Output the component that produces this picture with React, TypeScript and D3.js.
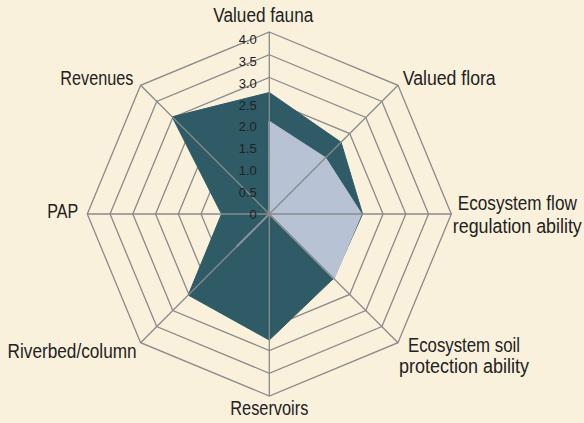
import React from "react";
import * as d3 from "d3";

const categories = [
  "Valued fauna",
  "Valued flora",
  "Ecosystem flow regulation ability",
  "Ecosystem soil protection ability",
  "Reservoirs",
  "Riverbed/column",
  "PAP",
  "Revenues",
];
const darkSeries = [2.67, 2.23, 2.05, 2.0, 2.77, 2.52, 1.05, 3.02];
const lightSeries = [2.03, 1.74, 2.02, 2.01, 0, 1.0, 0, 0];
const tickValues = [0, 0.5, 1, 1.5, 2, 2.5, 3, 3.5, 4];

const labelLines: string[][] = [
  ["Valued fauna"],
  ["Valued flora"],
  ["Ecosystem flow", "regulation ability"],
  ["Ecosystem soil", "protection ability"],
  ["Reservoirs"],
  ["Riverbed/column"],
  ["PAP"],
  ["Revenues"],
];
// rendered widths of each label line (condensed type)
const labelWidths: number[][] = [
  [100],
  [93],
  [119, 129],
  [112, 130],
  [78],
  [129],
  [31],
  [73],
];

const W = 584;
const H = 423;
const cx = 269.3;
const cy = 214;
const R = 182;
const BG = "#faf1dc";
const DARK = "#2e5b65";
const LIGHT = "#b7c2d5";
const GRID = "#8a8a8c";
const FONT = "'Liberation Sans', Arial, sans-serif";

export default function App() {
  const r = d3.scaleLinear().domain([0, 4]).range([0, R]);
  const rLabel = d3.scaleLinear().domain([0, 4]).range([0, R * 0.962]);
  const n = categories.length;
  const angle = (i: number) => (i * 2 * Math.PI) / n;
  const pt = (i: number, v: number): [number, number] => {
    const a = angle(i);
    return [cx + r(v) * Math.sin(a), cy - r(v) * Math.cos(a)];
  };
  const lineGen = d3.line<[number, number]>().curve(d3.curveLinearClosed);
  const poly = (vals: number[]) => lineGen(vals.map((v, i) => pt(i, v))) || "";

  const labelPos: { dx: number; dy: number; anchor: string; lh: number }[] = [
    { dx: -6, dy: -10.3, anchor: "middle", lh: 0 },
    { dx: 4.7, dy: 0, anchor: "start", lh: 0 },
    { dx: 66, dy: -4, anchor: "middle", lh: 23.3 },
    { dx: 66, dy: 9, anchor: "middle", lh: 21.8 },
    { dx: 0, dy: 19, anchor: "middle", lh: 0 },
    { dx: -4, dy: 15.6, anchor: "end", lh: 0 },
    { dx: -9, dy: 4.3, anchor: "end", lh: 0 },
    { dx: -7.3, dy: 0, anchor: "end", lh: 0 },
  ];

  return (
    <div style={{ position: "fixed", left: 0, top: 0, width: W, height: H }}>
      <svg width={W} height={H} style={{ display: "block" }}>
        <rect x={0} y={0} width={W} height={H} fill={BG} />
        {tickValues.slice(1).map((t) => (
          <path
            key={"ring" + t}
            d={poly(categories.map(() => t))}
            fill="none"
            stroke={GRID}
            strokeWidth={1.3}
          />
        ))}
        <path d={poly(darkSeries)} fill={DARK} stroke={DARK} strokeWidth={1} />
        <path d={poly(lightSeries)} fill={LIGHT} stroke={LIGHT} strokeWidth={1.6} strokeLinejoin="round" />
        {categories.map((c, i) => {
          const [x, y] = pt(i, 4);
          return (
            <line key={"spoke" + c} x1={cx} y1={cy} x2={x} y2={y} stroke={GRID} strokeWidth={1.3} />
          );
        })}
        {tickValues.map((t) => (
          <text
            key={"tick" + t}
            x={cx - 12.5}
            y={cy - rLabel(t) + 5}
            textAnchor="end"
            fontFamily={FONT}
            fontSize={13}
            fill="#222"
          >
            {t === 0 ? "0" : d3.format(".1f")(t)}
          </text>
        ))}
        {categories.map((c, i) => {
          const [x, y] = pt(i, 4);
          const p = labelPos[i];
          const lines = labelLines[i];
          return (
            <g key={"lab" + c}>
              {lines.map((l, k) => (
                <text
                  key={k}
                  x={x + p.dx}
                  y={y + p.dy + k * p.lh}
                  textAnchor={p.anchor}
                  fontFamily={FONT}
                  fontSize={19.5}
                  fill="#222"
                  textLength={labelWidths[i][k]}
                  lengthAdjust="spacingAndGlyphs"
                >
                  {l}
                </text>
              ))}
            </g>
          );
        })}
      </svg>
    </div>
  );
}
